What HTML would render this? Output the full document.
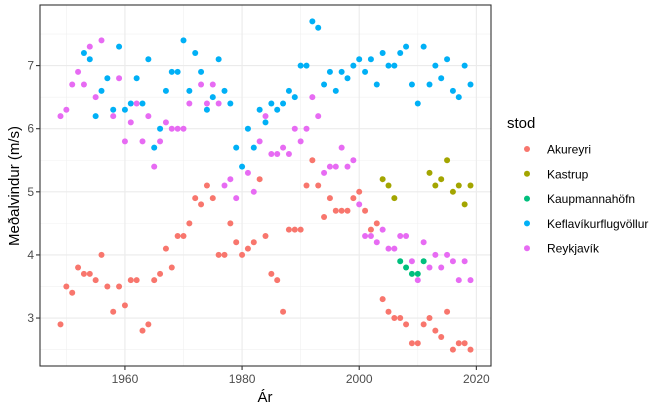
<!DOCTYPE html>
<html><head><meta charset="utf-8"><style>
body{margin:0;background:#fff;}
svg text{font-family:"Liberation Sans",sans-serif;}
</style></head><body>
<svg id="chart" width="666" height="411" xmlns="http://www.w3.org/2000/svg">
<rect width="666" height="411" fill="#fff"/>
<g id="grid"></g>
<g id="points"></g>
<rect x="40" y="5" width="451" height="361" fill="none" stroke="#333" stroke-width="1.1"/>
<g id="axes"></g>
<text x="265" y="402" font-size="15" text-anchor="middle" fill="#000">Ár</text>
<text transform="translate(19,186) rotate(-90)" font-size="15" text-anchor="middle" fill="#000">Meðalvindur (m/s)</text>
<g id="legend"></g>
</svg>
<script>
const years = [];
for (let y = 1949; y <= 2019; y++) years.push(y);
const akureyri = [2.9,3.5,3.4,3.8,3.7,3.7,3.6,4.0,3.5,3.1,3.5,3.2,3.6,3.6,2.8,2.9,3.6,3.7,4.1,3.8,4.3,4.3,4.5,4.9,4.8,5.1,4.9,4.0,4.0,4.5,4.2,4.0,4.1,4.2,5.2,4.3,3.7,3.6,3.1,4.4,4.4,4.4,5.1,5.5,5.1,4.6,4.9,4.7,4.7,4.7,4.9,5.0,4.7,4.4,4.5,3.3,3.1,3.0,3.0,2.9,2.6,2.6,2.9,3.0,2.8,2.7,3.1,2.5,2.6,2.6,2.5];
const reykjavikYears = [1949,1950,1951,1952,1953,1954,1955,1956,1958,1959,1960,1961,1962,1963,1964,1965,1966,1967,1968,1969,1970,1971,1973,1974,1975,1976,1977,1978,1979,1981,1982,1983,1984,1985,1986,1987,1988,1989,1990,1991,1992,1993,1994,1995,1996,1997,1998,1999,2000,2001,2002,2003,2004,2005,2006,2007,2008,2009,2010,2011,2012,2013,2014,2015,2016,2017,2018,2019];
const reykjavik = [6.2,6.3,6.7,6.9,6.7,7.3,6.5,7.4,6.2,6.8,5.8,6.1,6.4,5.8,6.2,5.4,5.8,6.1,6.0,6.0,6.0,6.4,6.7,6.4,6.7,6.4,5.1,5.2,4.9,5.3,5.0,5.8,6.2,5.6,5.6,5.7,5.6,6.0,5.8,6.0,6.5,6.2,5.3,5.4,5.4,5.7,5.4,5.5,4.8,4.3,4.3,4.2,4.4,4.1,4.1,4.3,4.3,3.9,3.6,4.2,3.8,4.0,3.8,4.0,3.9,3.6,3.9,3.6];
const keflavikYears = [];
for (let y = 1953; y <= 2019; y++) keflavikYears.push(y);
const keflavik = [7.2,7.1,6.2,6.6,6.8,6.3,7.3,6.3,6.4,6.8,6.4,7.1,5.7,6.0,6.6,6.9,6.9,7.4,6.6,7.2,6.9,6.3,6.5,7.1,6.6,6.4,5.7,5.4,6.0,5.7,6.3,6.1,6.4,6.3,6.4,6.6,6.5,7.0,7.0,7.7,7.6,6.7,6.9,6.6,6.9,6.8,7.0,7.1,6.9,7.1,6.7,7.2,7.0,7.0,7.2,7.3,6.7,6.4,7.3,6.7,7.0,6.8,7.1,6.6,6.5,7.0,6.7];
const kastrupYears = [2004,2005,2006,2012,2013,2014,2015,2016,2017,2018,2019];
const kastrup = [5.2,5.1,4.9,5.3,5.1,5.2,5.5,5.0,5.1,4.8,5.1];
const kaupYears = [2007,2008,2009,2010,2011];
const kaup = [3.9,3.8,3.7,3.7,3.9];
const xTicks = [1960,1980,2000,2020];
const xMinor = [1950,1970,1990,2010];
const yTicks = [3,4,5,6,7];
const yMinor = [2.5,3.5,4.5,5.5,6.5,7.5];
const stations = ["Akureyri","Kastrup","Kaupmannahöfn","Keflavíkurflugvöllur","Reykjavík"];
const colors = ["#F8766D","#A3A500","#00BF7D","#00B0F6","#E76BF3"];

const X0=40, X1=491, Y0=5, Y1=366;
const xmin=1945.5, xmax=2022.5, ymin=2.24, ymax=7.96;
const sx = v => X0 + (v - xmin) / (xmax - xmin) * (X1 - X0);
const sy = v => Y1 - (v - ymin) / (ymax - ymin) * (Y1 - Y0);
const NS="http://www.w3.org/2000/svg";
function mk(tag, parent, attrs){const e=document.createElementNS(NS,tag);for(const k in attrs)e.setAttribute(k,attrs[k]);parent.appendChild(e);return e;}
const grid=document.getElementById('grid'), pts=document.getElementById('points'), axes=document.getElementById('axes'), leg=document.getElementById('legend');
xMinor.forEach(v=>{const l=mk('line',grid,{x1:sx(v),x2:sx(v),y1:Y0,y2:Y1,stroke:'#f0f0f0','stroke-width':0.6});

});
yMinor.forEach(v=>{const l=mk('line',grid,{x1:X0,x2:X1,y1:sy(v),y2:sy(v),stroke:'#f0f0f0','stroke-width':0.6});

});
xTicks.forEach(v=>{const l=mk('line',grid,{x1:sx(v),x2:sx(v),y1:Y0,y2:Y1,stroke:'#ebebeb','stroke-width':1.1});


const t=mk('line',axes,{x1:sx(v),x2:sx(v),y1:Y1,y2:Y1+4,stroke:'#333','stroke-width':1.1});


const tx=mk('text',axes,{x:sx(v),y:Y1+17,'font-size':12,'text-anchor':'middle',fill:'#4d4d4d'});tx.textContent=v;

});
yTicks.forEach(v=>{const l=mk('line',grid,{x1:X0,x2:X1,y1:sy(v),y2:sy(v),stroke:'#ebebeb','stroke-width':1.1});


const t=mk('line',axes,{x1:X0-4,x2:X0,y1:sy(v),y2:sy(v),stroke:'#333','stroke-width':1.1});


const tx=mk('text',axes,{x:X0-6,y:sy(v)+4,'font-size':12,'text-anchor':'end',fill:'#4d4d4d'});tx.textContent=v;

});
const series=[[years,akureyri,0],[kastrupYears,kastrup,1],[kaupYears,kaup,2],[keflavikYears,keflavik,3],[reykjavikYears,reykjavik,4]];
series.forEach(([xs,vs,i])=>{vs.forEach((v,j)=>{const c=mk('circle',pts,{cx:sx(xs[j]),cy:sy(v),r:3,fill:colors[i]});

});});
const lt=mk('text',leg,{x:507,y:128,'font-size':15,fill:'#000'});lt.textContent='stod';


stations.forEach((s,i)=>{const y=149+i*24.8;
const c=mk('circle',leg,{cx:527,cy:y,r:3,fill:colors[i]});


const t=mk('text',leg,{x:547,y:y+4.5,'font-size':12,fill:'#000'});t.textContent=s;

});
</script>
</body></html>
